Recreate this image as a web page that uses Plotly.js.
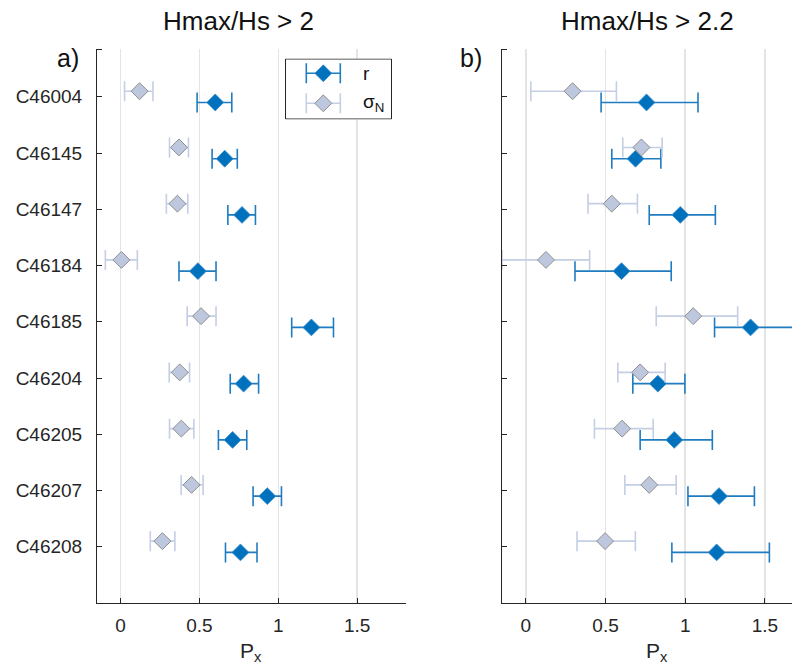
<!DOCTYPE html>
<html>
<head>
<meta charset="utf-8">
<script src="https://cdn.plot.ly/plotly-3.0.1.min.js"></script>
<style>
  html, body { margin: 0; padding: 0; background: #ffffff; }
  #chart { width: 792px; height: 671px; }
</style>
</head>
<body>
<div id="chart"></div>
<script>
// Buoy stations, top to bottom
const stations = ['C46004', 'C46145', 'C46147', 'C46184', 'C46185', 'C46204', 'C46205', 'C46207', 'C46208'];

// Panel a) Hmax/Hs > 2 : estimate with lower / upper interval ends
const rA    = [0.60, 0.66, 0.77, 0.49, 1.21, 0.78, 0.71, 0.93, 0.76];
const rA_lo = [0.485, 0.58, 0.68, 0.37, 1.085, 0.695, 0.62, 0.84, 0.665];
const rA_hi = [0.705, 0.74, 0.855, 0.605, 1.35, 0.875, 0.80, 1.02, 0.865];
const sA    = [0.12, 0.37, 0.36, 0.005, 0.51, 0.375, 0.385, 0.45, 0.265];
const sA_lo = [0.025, 0.31, 0.29, -0.097, 0.422, 0.308, 0.31, 0.384, 0.188];
const sA_hi = [0.205, 0.43, 0.426, 0.106, 0.605, 0.437, 0.464, 0.523, 0.344];

// Panel b) Hmax/Hs > 2.2
const rB    = [0.757, 0.688, 0.969, 0.60, 1.41, 0.828, 0.931, 1.212, 1.197];
const rB_lo = [0.472, 0.539, 0.774, 0.308, 1.184, 0.671, 0.717, 1.017, 0.916];
const rB_hi = [1.08, 0.847, 1.189, 0.912, 1.70, 0.998, 1.17, 1.434, 1.528];
const sB    = [0.293, 0.725, 0.539, 0.126, 1.05, 0.717, 0.604, 0.774, 0.497];
const sB_lo = [0.031, 0.608, 0.39, -0.15, 0.818, 0.577, 0.43, 0.621, 0.321];
const sB_hi = [0.568, 0.855, 0.70, 0.40, 1.329, 0.874, 0.799, 0.943, 0.687];

const xTicks = [0, 0.5, 1, 1.5];
const xTickText = ['0', '0.5', '1', '1.5'];

// styling
const W = 792, H = 671;
const BLUE = '#0072BD';
const BLUE_BAR = '#1f7cc0';
const GREY_FILL = '#BDC8DE';
const GREY_EDGE = '#8E8E8E';
const GREY_BAR = '#C4CEE4';
const INK = '#262626';
const FONT = 'Liberation Sans, Arial, Helvetica, sans-serif';

const catPos = stations.map((_, i) => i + 1);
const yR = catPos.map(v => v + 0.1);   // r sits just below the station tick
const yS = catPos.map(v => v - 0.1);   // sigma_N just above it

const px = v => v / W;           // horizontal pixel -> paper fraction
const py = v => (H - v) / H;     // vertical pixel (from top) -> paper fraction

function errSpec(est, lo, hi, color) {
  return {
    type: 'data', symmetric: false,
    array: est.map((v, i) => hi[i] - v),
    arrayminus: est.map((v, i) => v - lo[i]),
    color: color, thickness: 1.6, width: 10
  };
}

function rTrace(est, lo, hi, xa, ya) {
  return {
    type: 'scatter', mode: 'markers', x: est, y: yR, xaxis: xa, yaxis: ya,
    marker: { symbol: 'diamond', size: 13, color: BLUE, line: { color: '#3b8ccc', width: 0.8 } },
    error_x: errSpec(est, lo, hi, BLUE_BAR),
    showlegend: false, hoverinfo: 'x'
  };
}
function sTrace(est, lo, hi, xa, ya) {
  return {
    type: 'scatter', mode: 'markers', x: est, y: yS, xaxis: xa, yaxis: ya,
    marker: { symbol: 'diamond', size: 13, color: GREY_FILL, line: { color: GREY_EDGE, width: 1 } },
    error_x: errSpec(est, lo, hi, GREY_BAR),
    showlegend: false, hoverinfo: 'x'
  };
}

// legend glyphs live on their own small axes placed over the box
const legX = 323.3, legR = 73.3, legS = 103.3, legHalf = 17;
const legendR = {
  type: 'scatter', mode: 'markers', x: [legX], y: [legR], xaxis: 'x3', yaxis: 'y3',
  marker: { symbol: 'diamond', size: 13, color: BLUE, line: { color: '#3b8ccc', width: 0.8 } },
  error_x: { type: 'constant', value: legHalf, color: BLUE_BAR, thickness: 1.6, width: 10 },
  showlegend: false, hoverinfo: 'skip'
};
const legendS = {
  type: 'scatter', mode: 'markers', x: [legX], y: [legS], xaxis: 'x3', yaxis: 'y3',
  marker: { symbol: 'diamond', size: 13, color: GREY_FILL, line: { color: GREY_EDGE, width: 1 } },
  error_x: { type: 'constant', value: legHalf, color: GREY_BAR, thickness: 1.6, width: 10 },
  showlegend: false, hoverinfo: 'skip'
};

const data = [
  rTrace(rA, rA_lo, rA_hi, 'x', 'y'),
  sTrace(sA, sA_lo, sA_hi, 'x', 'y'),
  rTrace(rB, rB_lo, rB_hi, 'x2', 'y2'),
  sTrace(sB, sB_lo, sB_hi, 'x2', 'y2'),
  legendR, legendS
];

const yDomain = [py(603), py(49)];

function xAxis(domain, range, anchor) {
  return {
    domain: domain, range: range, anchor: anchor,
    tickmode: 'array', tickvals: xTicks, ticktext: xTickText,
    showgrid: true, gridcolor: '#E4E4E4', gridwidth: 1.5,
    showline: true, linecolor: INK, linewidth: 1,
    ticks: 'inside', ticklen: 5, tickcolor: INK, tickwidth: 1,
    ticklabelstandoff: 5,
    tickfont: { family: FONT, size: 19, color: INK },
    zeroline: false, fixedrange: true
  };
}
function yAxis(showLabels, anchor) {
  return {
    domain: yDomain, range: [10, 0.15], anchor: anchor,
    tickmode: 'array', tickvals: catPos, ticktext: stations,
    showticklabels: showLabels,
    showgrid: false, showline: true, linecolor: INK, linewidth: 1,
    ticks: 'inside', ticklen: 5, tickcolor: INK, tickwidth: 1,
    ticklabelstandoff: 10,
    tickfont: { family: FONT, size: 19, color: INK },
    zeroline: false, fixedrange: true
  };
}

const layout = {
  width: W, height: H,
  margin: { l: 0, r: 0, t: 0, b: 0 },
  paper_bgcolor: '#ffffff', plot_bgcolor: '#ffffff',
  showlegend: false,
  font: { family: FONT, color: INK },
  xaxis: xAxis([px(97), px(406)], [-0.15, 1.81], 'y'),
  yaxis: yAxis(true, 'x'),
  xaxis2: xAxis([px(502), 1], [-0.15, 1.67], 'y2'),
  yaxis2: yAxis(false, 'x2'),
  xaxis3: { domain: [px(285), px(392)], range: [285, 392], anchor: 'y3', visible: false, fixedrange: true },
  yaxis3: { domain: [py(119.5), py(58.5)], range: [119.5, 58.5], anchor: 'x3', visible: false, fixedrange: true },
  shapes: [
    // legend frame, drawn under its own glyphs but over the panel grid
    { type: 'rect', xref: 'x3', yref: 'y3', x0: 285.5, x1: 391.5, y0: 59, y1: 119,
      layer: 'below', fillcolor: '#ffffff', line: { color: INK, width: 1 } },
    // short stubs at the top end of each y axis
    { type: 'line', xref: 'paper', yref: 'paper', x0: px(97), x1: px(102), y0: py(49.5), y1: py(49.5),
      line: { color: INK, width: 1 } },
    { type: 'line', xref: 'paper', yref: 'paper', x0: px(502), x1: px(507), y0: py(49.5), y1: py(49.5),
      line: { color: INK, width: 1 } }
  ],
  annotations: [
    { text: 'Hmax/Hs > 2', xref: 'paper', yref: 'paper', x: px(238.7), y: py(21),
      xanchor: 'center', yanchor: 'middle', showarrow: false, font: { family: FONT, size: 26, color: '#111' } },
    { text: 'Hmax/Hs > 2.2', xref: 'paper', yref: 'paper', x: px(647.5), y: py(21),
      xanchor: 'center', yanchor: 'middle', showarrow: false, font: { family: FONT, size: 26, color: '#111' } },
    { text: 'a)', xref: 'paper', yref: 'paper', x: px(81), y: py(58),
      xanchor: 'right', yanchor: 'middle', showarrow: false, font: { family: FONT, size: 25, color: '#111' } },
    { text: 'b)', xref: 'paper', yref: 'paper', x: px(484), y: py(58),
      xanchor: 'right', yanchor: 'middle', showarrow: false, font: { family: FONT, size: 25, color: '#111' } },
    { text: 'P<sub>x</sub>', xref: 'paper', yref: 'paper', x: px(251), y: py(652),
      xanchor: 'center', yanchor: 'middle', showarrow: false, font: { family: FONT, size: 21, color: INK } },
    { text: 'P<sub>x</sub>', xref: 'paper', yref: 'paper', x: px(657), y: py(652),
      xanchor: 'center', yanchor: 'middle', showarrow: false, font: { family: FONT, size: 21, color: INK } },
    { text: 'r', xref: 'x3', yref: 'y3', x: 361, y: legR,
      xanchor: 'left', yanchor: 'middle', showarrow: false, font: { family: FONT, size: 19, color: '#111' } },
    { text: 'σ<sub>N</sub>', xref: 'x3', yref: 'y3', x: 361, y: legS,
      xanchor: 'left', yanchor: 'middle', showarrow: false, font: { family: FONT, size: 19, color: '#111' } }
  ]
};

Plotly.newPlot('chart', data, layout, { displayModeBar: false, staticPlot: true });
</script>
</body>
</html>
